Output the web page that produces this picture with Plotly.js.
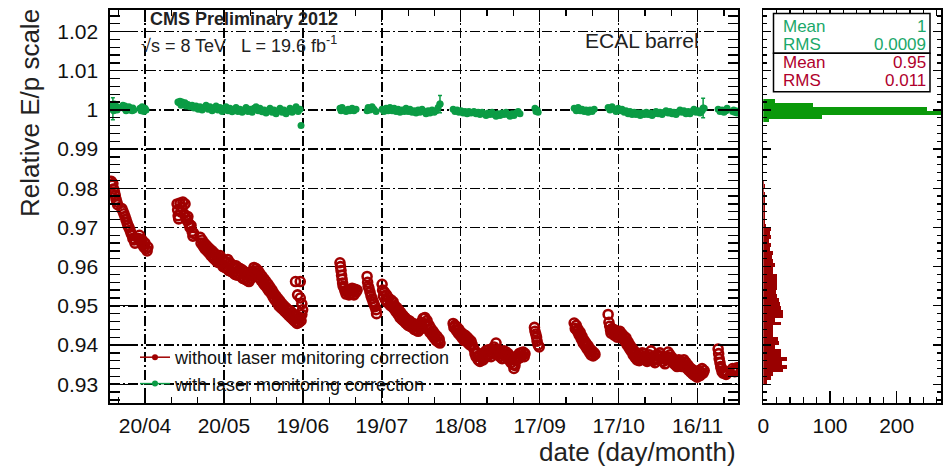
<!DOCTYPE html>
<html><head><meta charset="utf-8">
<script src="https://cdn.plot.ly/plotly-3.0.1.min.js"></script>
<style>html,body{margin:0;padding:0;background:#fff}#chart{width:943px;height:468px}</style>
</head><body><div id="chart"></div>
<script>
// ---- data: days counted from 2012-04-01 ----
const tickDays = [19,49,79,109,139,169,199,229];
const tickText = ['20/04','20/05','19/06','19/07','18/08','17/09','17/10','16/11'];
const yTickVals = [0.93,0.94,0.95,0.96,0.97,0.98,0.99,1.00,1.01,1.02];
const yTickText = ['0.93','0.94','0.95','0.96','0.97','0.98','0.99','1','1.01','1.02'];

const redDay = [
 6.2,6.5,6.8,7.1,7.4,7.7,8.0,8.3,8.6,10.2,10.6,11.0,11.4,11.8,12.2,12.5,12.9,13.3,13.7,14.1,14.4,14.8,15.2,16.5,16.9,17.3,17.5,17.9,18.2,18.6,19.0,19.4,19.8,20.1,
 31.2,31.4,31.6,31.8,32.3,32.6,33.1,33.4,33.8,34.2,34.6,35.0,35.3,35.7,36.1,36.5,36.9,37.2,37.5,
 40.0,40.3,40.7,41.1,41.5,41.8,42.2,42.6,42.9,43.3,43.7,44.1,44.5,44.9,45.2,45.6,46.0,46.4,46.7,47.1,
 47.5,47.9,48.3,48.7,49.0,49.4,49.8,50.2,50.5,50.9,51.3,51.7,52.1,52.4,52.8,53.2,53.6,54.0,54.3,54.7,
 55.1,55.5,55.9,56.2,56.6,57.0,57.4,57.8,58.1,58.5,58.9,59.3,59.7,60.1,60.4,60.8,61.2,61.6,62.0,62.3,
 62.7,63.1,63.5,63.9,64.3,64.6,65.0,65.4,65.8,66.1,66.5,66.9,67.3,67.7,68.0,68.4,68.8,69.2,69.6,69.9,
 70.3,70.7,71.1,71.5,71.8,72.2,72.6,73.0,73.4,73.7,74.1,74.5,74.9,75.3,75.6,76.0,76.4,76.8,77.2,77.5,77.9,78.3,
 76.2,78.0,77.0,78.0,78.6,78.9,78.6,
 93.1,93.3,93.5,93.7,93.9,94.1,94.3,94.7,95.0,95.4,95.8,96.2,96.5,96.9,97.3,97.7,98.1,98.4,98.8,99.2,99.6,
 103.4,103.6,103.8,104.1,104.5,104.9,105.3,105.7,106.0,106.4,106.8,107.0,
 109.1,109.3,109.6,110.0,110.4,110.8,111.2,111.6,112.1,112.5,112.9,113.3,113.7,114.0,114.4,114.8,115.2,115.6,115.9,116.3,
 116.7,117.1,117.5,117.8,118.2,118.6,119.0,119.4,119.7,120.1,120.5,120.9,121.3,121.6,122.0,122.4,122.8,123.2,123.5,123.9,
 124.3,124.7,125.1,125.4,125.8,126.2,126.6,127.0,127.3,127.7,128.1,128.5,128.9,129.2,129.6,130.0,130.4,130.8,131.1,
 136.1,136.4,136.8,137.2,137.6,138.0,138.3,138.7,139.1,139.5,139.9,140.2,140.6,141.0,141.4,141.8,142.1,142.5,142.9,143.3,
 144.0,144.4,144.8,145.2,145.6,146.0,146.3,146.7,147.1,147.5,147.8,148.2,148.6,149.0,149.4,149.7,150.1,150.5,150.9,151.3,
 151.6,152.0,152.4,152.8,153.1,153.5,153.9,154.3,154.7,155.0,155.4,155.8,156.2,156.6,157.0,157.3,157.7,158.1,158.5,158.9,
 159.2,159.6,160.0,160.4,160.8,161.2,161.5,161.9,162.3,162.7,163.1,163.4,
 167.0,167.2,167.5,167.8,168.0,168.4,168.8,
 182.1,182.5,182.9,183.3,183.6,184.0,184.4,184.8,185.1,185.5,185.9,186.3,186.6,187.0,187.4,187.8,188.1,188.5,188.9,189.3,189.7,190.0,
 195.0,195.3,195.6,195.9,196.1,196.5,196.9,197.3,197.6,198.0,198.4,198.8,199.2,199.5,199.9,200.3,200.7,201.1,201.4,201.8,
 202.2,202.6,203.0,203.3,203.7,204.1,204.5,204.9,205.3,205.6,206.0,206.4,206.8,207.2,207.6,207.9,208.3,208.7,209.1,209.5,
 209.8,210.2,210.6,211.0,211.3,211.7,212.1,212.5,212.8,213.2,213.6,214.0,214.4,214.7,215.1,215.5,215.9,216.3,216.6,217.0,
 217.4,217.8,218.2,218.5,218.9,219.3,219.7,220.0,220.4,220.8,221.2,221.6,221.9,222.3,222.7,223.1,223.5,223.8,224.2,224.6,
 225.0,225.4,225.7,226.1,226.5,226.9,227.3,227.6,228.0,228.4,228.8,229.2,229.5,229.9,230.3,230.7,231.1,231.5,
 236.8,237.0,237.2,237.5,237.8,238.0,238.3,238.7,239.0,239.4,239.8,240.2,
 242.3,242.7,243.1,243.5,243.9,244.3
];
const redVal = [
 .9818,.9808,.9812,.9798,.9790,.9782,.9772,.9765,.9758,.9748,.9742,.9735,.9728,.9720,.9712,.9705,.9700,.9693,.9685,.9680,.9672,.9668,.9660,.9672,.9680,.9670,.9662,.9668,.9655,.9650,.9660,.9645,.9640,.9650,
 .9760,.9745,.9730,.9722,.9762,.9740,.9752,.9765,.9735,.9760,.9725,.9718,.9728,.9710,.9700,.9705,.9690,.9678,.9685,
 .9675,.9660,.9668,.9652,.9660,.9645,.9655,.9640,.9650,.9635,.9645,.9628,.9640,.9622,.9635,.9618,.9630,.9612,.9625,.9610,
 .9628,.9608,.9620,.9600,.9615,.9598,.9612,.9595,.9618,.9590,.9610,.9588,.9605,.9585,.9600,.9580,.9602,.9578,.9598,.9582,
 .9595,.9575,.9592,.9570,.9588,.9568,.9585,.9565,.9580,.9562,.9578,.9570,.9588,.9578,.9598,.9585,.9595,.9580,.9590,.9572,
 .9582,.9565,.9575,.9558,.9568,.9552,.9562,.9545,.9555,.9538,.9548,.9532,.9540,.9522,.9532,.9515,.9525,.9508,.9518,.9500,
 .9512,.9495,.9505,.9490,.9500,.9485,.9495,.9480,.9490,.9475,.9488,.9470,.9482,.9465,.9478,.9460,.9472,.9455,.9468,.9458,.9470,.9462,
 .9562,.9562,.9528,.9520,.9505,.9490,.9478,
 .9610,.9600,.9590,.9578,.9568,.9558,.9550,.9545,.9538,.9530,.9540,.9535,.9528,.9540,.9532,.9545,.9538,.9528,.9542,.9535,.9540,
 .9575,.9560,.9550,.9545,.9535,.9525,.9518,.9510,.9505,.9498,.9490,.9480,
 .9555,.9540,.9525,.9535,.9515,.9528,.9508,.9520,.9502,.9515,.9498,.9510,.9492,.9500,.9485,.9495,.9478,.9488,.9470,.9482,
 .9465,.9475,.9460,.9470,.9455,.9465,.9450,.9462,.9448,.9458,.9445,.9455,.9440,.9452,.9438,.9448,.9435,.9450,.9440,.9458,
 .9448,.9468,.9455,.9470,.9450,.9462,.9440,.9450,.9432,.9442,.9425,.9435,.9418,.9428,.9412,.9422,.9408,.9415,.9405,
 .9455,.9445,.9450,.9438,.9445,.9430,.9440,.9425,.9432,.9418,.9428,.9412,.9425,.9410,.9420,.9405,.9415,.9400,.9410,.9402,
 .9390,.9378,.9370,.9380,.9362,.9372,.9358,.9368,.9375,.9362,.9380,.9368,.9385,.9372,.9388,.9375,.9382,.9370,.9390,.9378,
 .9395,.9382,.9405,.9388,.9375,.9385,.9370,.9380,.9365,.9378,.9385,.9372,.9382,.9368,.9378,.9362,.9372,.9355,.9365,.9350,
 .9340,.9348,.9360,.9372,.9365,.9378,.9368,.9380,.9372,.9382,.9370,.9378,
 .9445,.9435,.9428,.9420,.9410,.9400,.9395,
 .9456,.9442,.9450,.9435,.9440,.9425,.9432,.9415,.9422,.9405,.9412,.9398,.9405,.9390,.9398,.9382,.9390,.9375,.9385,.9372,.9380,.9376,
 .9478,.9458,.9448,.9438,.9430,.9442,.9435,.9425,.9438,.9428,.9420,.9432,.9425,.9435,.9420,.9428,.9415,.9422,.9410,.9418,
 .9400,.9408,.9392,.9400,.9385,.9392,.9375,.9385,.9368,.9378,.9362,.9372,.9360,.9375,.9365,.9380,.9368,.9378,.9362,.9372,
 .9358,.9368,.9375,.9362,.9385,.9370,.9360,.9372,.9355,.9365,.9375,.9362,.9372,.9380,.9365,.9372,.9358,.9368,.9352,.9362,
 .9370,.9382,.9368,.9375,.9360,.9368,.9355,.9362,.9350,.9358,.9345,.9355,.9362,.9350,.9358,.9345,.9352,.9362,.9348,.9355,
 .9340,.9348,.9335,.9342,.9330,.9338,.9325,.9332,.9322,.9330,.9318,.9325,.9335,.9322,.9330,.9340,.9328,.9335,
 .9390,.9378,.9365,.9355,.9345,.9340,.9332,.9328,.9335,.9330,.9325,.9330,
 .9340,.9335,.9332,.9338,.9342,.9336
];

const greenDay = [
 6.2,6.5,6.8,7.1,7.4,7.7,8.0,8.4,8.8,10.6,11.0,11.4,11.8,12.2,12.5,12.9,13.3,13.7,14.1,14.4,14.8,17.1,17.5,17.9,18.2,18.6,19.0,19.4,
 31.5,31.9,32.3,32.7,33.1,33.4,34.2,34.6,35.3,36.1,36.9,37.6,38.4,39.2,39.9,40.7,41.5,42.2,43.0,43.7,
 44.5,45.2,46.0,46.7,47.5,48.3,49.0,49.8,50.5,51.3,52.1,52.8,53.6,54.3,55.1,55.9,56.6,57.4,58.1,58.9,
 59.7,60.4,61.2,62.0,62.7,63.5,64.3,65.0,65.8,66.5,67.3,68.0,68.8,69.6,70.3,71.1,71.8,72.6,73.4,74.1,
 74.9,75.6,76.4,77.2,77.9,78.3,
 93.1,93.5,93.9,94.7,95.4,96.2,96.9,97.7,98.4,99.2,
 103.4,103.8,104.5,105.3,106.0,106.8,109.1,109.8,110.6,111.4,112.1,112.9,113.7,114.4,115.2,115.9,116.7,117.5,118.2,119.0,
 119.7,120.5,121.3,122.0,122.8,123.5,124.3,125.1,125.8,126.6,127.3,128.1,128.9,129.6,130.4,131.1,
 136.1,136.8,137.6,138.3,139.1,139.9,140.6,141.4,142.1,142.9,
 144.0,144.8,145.6,146.3,147.1,147.8,148.6,149.4,150.1,150.9,151.6,152.4,153.1,153.9,154.7,155.4,156.2,157.0,157.7,158.5,159.2,160.0,160.8,161.5,
 167.2,167.6,168.0,168.4,
 182.1,182.9,183.6,184.4,185.1,185.9,186.6,187.4,188.1,188.9,189.7,
 195.0,195.7,196.5,197.3,198.0,198.8,199.5,200.3,201.1,201.8,202.6,203.3,204.1,204.9,205.6,206.4,207.2,207.9,208.7,209.5,
 210.2,211.0,211.7,212.5,213.2,214.0,214.7,215.5,216.3,217.0,217.8,218.5,219.3,220.0,220.8,221.6,222.3,223.1,223.8,224.6,
 225.4,226.1,226.9,227.6,228.4,229.2,229.9,230.7,231.5,
 236.8,237.5,238.3,239.0,239.8,240.2,
 242.3,242.7,243.1,243.5,244.0
];
const greenVal = [
 1.0012,1.0002,1.0008,0.9998,1.0015,1.0005,1.0010,1.0000,1.0006,1.0012,1.0004,1.0010,0.9998,1.0006,1.0002,1.0008,1.0000,1.0004,0.9998,1.0005,1.0000,1.0004,0.9998,1.0008,1.0002,0.9996,1.0004,1.0000,
 1.0020,1.0018,1.0022,1.0012,1.0020,1.0015,1.0018,1.0010,1.0014,1.0008,1.0012,1.0005,1.0010,1.0002,1.0008,1.0000,1.0006,1.0012,1.0002,1.0008,
 0.9998,1.0005,1.0010,1.0000,1.0006,0.9996,1.0004,1.0008,0.9998,1.0004,0.9995,1.0002,1.0006,0.9996,1.0002,0.9994,1.0000,1.0006,0.9996,1.0002,
 0.9994,1.0004,1.0008,0.9998,1.0004,0.9995,1.0000,0.9992,0.9998,1.0004,0.9994,1.0000,0.9990,0.9998,1.0004,0.9994,1.0000,0.9990,0.9996,1.0004,
 0.9994,1.0000,1.0008,0.9996,1.0002,0.9960,
 1.0004,0.9998,1.0006,1.0000,0.9996,1.0002,0.9998,1.0004,0.9998,1.0002,
 0.9998,1.0006,1.0000,1.0008,1.0002,0.9996,1.0002,0.9996,1.0004,0.9998,1.0006,0.9998,1.0004,0.9996,1.0002,0.9994,1.0000,0.9996,1.0004,0.9996,
 1.0002,0.9994,0.9998,0.9992,1.0000,0.9994,1.0002,0.9996,0.9990,0.9998,0.9992,1.0000,0.9994,0.9998,1.0006,1.0015,
 1.0002,0.9996,1.0000,0.9994,0.9998,0.9992,0.9996,0.9990,0.9996,0.9992,
 0.9996,0.9990,0.9994,0.9988,0.9994,0.9990,0.9986,0.9992,0.9988,0.9994,0.9988,0.9984,0.9990,0.9986,0.9992,0.9988,0.9994,0.9988,0.9984,0.9990,0.9986,0.9992,0.9996,0.9990,
 1.0004,0.9996,1.0000,0.9994,
 1.0004,0.9998,1.0006,0.9998,1.0002,0.9996,1.0000,0.9994,1.0000,0.9996,1.0002,
 1.0006,1.0000,1.0008,1.0002,0.9996,1.0004,0.9998,1.0002,0.9994,0.9998,0.9990,0.9996,0.9988,0.9994,0.9988,0.9992,0.9986,0.9992,0.9988,0.9994,
 0.9988,0.9992,0.9986,0.9990,0.9996,0.9990,0.9994,0.9988,0.9994,0.9998,0.9992,0.9996,0.9990,0.9994,0.9988,0.9994,1.0000,0.9994,0.9998,0.9990,
 0.9996,0.9990,0.9996,1.0002,0.9994,0.9998,0.9992,0.9998,1.0004,
 1.0002,0.9996,1.0000,0.9994,0.9998,1.0004,
 0.9996,1.0000,0.9994,0.9998,0.9992
];
const greenErrDay = [6.8, 131.1, 231.1];
const greenErrVal = [1.0003, 1.0015, 1.0005];
const greenErrSize = [0.0028, 0.0022, 0.0025];

const redHistBin = [0.9305,0.9315,0.9325,0.9335,0.9345,0.9355,0.9365,0.9375,0.9385,0.9395,
 0.9405,0.9415,0.9425,0.9435,0.9445,0.9455,0.9465,0.9475,0.9485,0.9495,
 0.9505,0.9515,0.9525,0.9535,0.9545,0.9555,0.9565,0.9575,0.9585,0.9595,
 0.9605,0.9615,0.9625,0.9635,0.9645,0.9655,0.9665,0.9675,0.9685,0.9695,
 0.9705,0.9715,0.9725,0.9735,0.9745,0.9755,0.9765,0.9775,0.9785,0.9795,0.9805,0.9815];
const redHistCount = [5,12,15,30,36,28,36,26,26,18,24,22,15,14,15,27,17,30,30,27,
 25,23,21,19,20,21,21,20,15,14,17,15,13,15,10,12,9,11,10,11,4,3,3,2,3,2,3,2,2,1,2,1];
const greenHistBin = [0.9973,0.9983,0.9993,1.0003,1.0013,1.0023];
const greenHistCount = [8,88,330,245,75,18];

const statsGreen = {mean:'1', rms:'0.0009'};
const statsRed = {mean:'0.95', rms:'0.011'};

// ---- helpers ----
const DAY = 86400000, T0 = Date.UTC(2012,3,1);
const toMs = d => T0 + d*DAY;
const W = 943, H = 468;
const px = x => x/W, py = y => 1 - y/H;   // margins are zero, so paper == full figure

const RED = '#a00000', GREEN = '#0b9c45';
const FONT = 'Liberation Sans, Arial, Helvetica, sans-serif';

const traces = [
 {type:'bar', orientation:'h', x:redHistCount, y:redHistBin, width:0.001, xaxis:'x2', yaxis:'y2',
  marker:{color:'#990000', line:{width:0}}, showlegend:false, hoverinfo:'skip'},
 {type:'bar', orientation:'h', x:greenHistCount, y:greenHistBin, width:0.001, xaxis:'x2', yaxis:'y2',
  marker:{color:'#0a990a', line:{width:0}}, showlegend:false, hoverinfo:'skip'},
 {type:'scatter', mode:'markers', x:redDay.map(toMs), y:redVal, xaxis:'x', yaxis:'y',
  marker:{symbol:'circle-open', size:9, color:RED, line:{width:2.6}}, showlegend:false},
 {type:'scatter', mode:'markers', x:greenDay.map(toMs), y:greenVal, xaxis:'x', yaxis:'y',
  marker:{symbol:'circle', size:7, color:GREEN}, showlegend:false},
 {type:'scatter', mode:'markers', x:greenErrDay.map(toMs), y:greenErrVal, xaxis:'x', yaxis:'y',
  error_y:{type:'data', array:greenErrSize, color:GREEN, thickness:1.5, width:2},
  marker:{symbol:'circle', size:7, color:GREEN}, showlegend:false},
 {type:'scatter', mode:'lines+markers', x:[null], y:[null], name:'without laser monitoring correction',
  line:{color:RED, width:1.5}, marker:{size:6, color:RED}, xaxis:'x', yaxis:'y'},
 {type:'scatter', mode:'lines+markers', x:[null], y:[null], name:'with laser monitoring correction',
  line:{color:GREEN, width:1.5}, marker:{size:6, color:GREEN}, xaxis:'x', yaxis:'y'}
];

const axCommon = {showline:true, linecolor:'black', linewidth:1.6, mirror:'allticks', ticks:'inside',
  tickcolor:'black', tickwidth:1.3, zeroline:false, tickfont:{family:FONT, size:21, color:'#111'}};
const GRIDDASH = '10px,3px,2px,3px';

const yRange = [0.9252, 1.0255];
const yDom = [1 - 403/H, 1 - 10/H];
const layout = {
  width:W, height:H, margin:{l:0, r:0, t:0, b:0},
  paper_bgcolor:'white', plot_bgcolor:'white',
  font:{family:FONT, color:'#111'},
  barmode:'overlay', bargap:0,
  showlegend:true,
  legend:{x:px(135), y:py(339), xanchor:'left', yanchor:'top', bgcolor:'rgba(0,0,0,0)',
    font:{family:FONT, size:18, color:'#111'}, tracegroupgap:0, itemwidth:30},
  xaxis:Object.assign({}, axCommon, {domain:[px(110), px(738)], type:'date',
    range:[toMs(5.70), toMs(244.35)], tickmode:'array', tickvals:tickDays.map(toMs), ticktext:tickText,
    ticklen:12, ticklabelstandoff:3,
    showgrid:true, gridcolor:'black', gridwidth:1.4, griddash:GRIDDASH,
    minor:{tick0:toMs(19), dtick:10*DAY, ticks:'inside', ticklen:6, tickcolor:'black', showgrid:false}}),
  yaxis:Object.assign({}, axCommon, {domain:yDom, range:yRange, tickmode:'array',
    tickvals:yTickVals, ticktext:yTickText, ticklen:20, ticklabelstandoff:6,
    showgrid:true, gridcolor:'black', gridwidth:1.4, griddash:GRIDDASH,
    minor:{tick0:0.93, dtick:0.002, ticks:'inside', ticklen:10, tickcolor:'black', showgrid:false}}),
  xaxis2:Object.assign({}, axCommon, {domain:[px(763.3), px(941)], anchor:'y2', range:[0, 266.5],
    tickmode:'array', tickvals:[0,100,200], ticklen:12, ticklabelstandoff:3, showgrid:false,
    minor:{tick0:0, dtick:20, ticks:'inside', ticklen:6, tickcolor:'black', showgrid:false}}),
  yaxis2:Object.assign({}, axCommon, {domain:yDom, anchor:'x2', range:yRange, showticklabels:false,
    tickmode:'linear', tick0:0.93, dtick:0.01, ticklen:8, showgrid:false,
    minor:{tick0:0.93, dtick:0.002, ticks:'inside', ticklen:4, tickcolor:'black', showgrid:false}}),
  shapes:[
    {type:'rect', xref:'paper', yref:'paper', x0:px(111), x1:px(342), y0:py(11), y1:py(62),
     fillcolor:'white', line:{width:0}, layer:'between'},
    {type:'rect', xref:'paper', yref:'paper', x0:px(562), x1:px(737), y0:py(11), y1:py(58),
     fillcolor:'white', line:{width:0}, layer:'between'},
    {type:'rect', xref:'paper', yref:'paper', x0:px(111), x1:px(458), y0:py(344), y1:py(398),
     fillcolor:'white', line:{width:0}, layer:'between'},
    {type:'rect', xref:'paper', yref:'paper', x0:px(773.5), x1:px(930), y0:py(13.5), y1:py(53.3),
     fillcolor:'white', line:{color:'black', width:1.5}, layer:'above'},
    {type:'rect', xref:'paper', yref:'paper', x0:px(773.5), x1:px(930), y0:py(53.3), y1:py(91.7),
     fillcolor:'white', line:{color:'black', width:1.5}, layer:'above'}
  ],
  annotations:[
    {xref:'paper', yref:'paper', x:px(148), y:py(19), xanchor:'left', yanchor:'middle', showarrow:false,
     text:'<b>CMS Preliminary 2012</b>', font:{family:FONT, size:18, color:'#222'}},
    {xref:'paper', yref:'paper', x:px(139), y:py(45), xanchor:'left', yanchor:'middle', showarrow:false,
     text:'√s = 8 TeV   L = 19.6 fb<sup>-1</sup>', font:{family:FONT, size:18, color:'#222'}},
    {xref:'paper', yref:'paper', x:px(583), y:py(40), xanchor:'left', yanchor:'middle', showarrow:false,
     text:'ECAL barrel', font:{family:FONT, size:21, color:'#222'}},
    {xref:'paper', yref:'paper', x:px(30), y:py(113), xanchor:'center', yanchor:'middle', showarrow:false,
     textangle:-90, text:'Relative E/p scale', font:{family:FONT, size:26, color:'#222'}},
    {xref:'paper', yref:'paper', x:px(738), y:py(452), xanchor:'right', yanchor:'middle', showarrow:false,
     text:'date (day/month)', font:{family:FONT, size:26, color:'#222'}},
    {xref:'paper', yref:'paper', x:px(781), y:py(26.5), xanchor:'left', yanchor:'middle', showarrow:false,
     text:'Mean', font:{family:FONT, size:17, color:'#1aa86a'}},
    {xref:'paper', yref:'paper', x:px(928), y:py(26.5), xanchor:'right', yanchor:'middle', showarrow:false,
     text:statsGreen.mean, font:{family:FONT, size:17, color:'#1aa86a'}},
    {xref:'paper', yref:'paper', x:px(781), y:py(44), xanchor:'left', yanchor:'middle', showarrow:false,
     text:'RMS', font:{family:FONT, size:17, color:'#1aa86a'}},
    {xref:'paper', yref:'paper', x:px(928), y:py(44), xanchor:'right', yanchor:'middle', showarrow:false,
     text:statsGreen.rms, font:{family:FONT, size:17, color:'#1aa86a'}},
    {xref:'paper', yref:'paper', x:px(781), y:py(63), xanchor:'left', yanchor:'middle', showarrow:false,
     text:'Mean', font:{family:FONT, size:17, color:'#b0002c'}},
    {xref:'paper', yref:'paper', x:px(928), y:py(63), xanchor:'right', yanchor:'middle', showarrow:false,
     text:statsRed.mean, font:{family:FONT, size:17, color:'#b0002c'}},
    {xref:'paper', yref:'paper', x:px(781), y:py(80), xanchor:'left', yanchor:'middle', showarrow:false,
     text:'RMS', font:{family:FONT, size:17, color:'#b0002c'}},
    {xref:'paper', yref:'paper', x:px(928), y:py(80), xanchor:'right', yanchor:'middle', showarrow:false,
     text:statsRed.rms, font:{family:FONT, size:17, color:'#b0002c'}}
  ]
};

Plotly.newPlot('chart', traces, layout, {displayModeBar:false, staticPlot:true});
</script>
</body></html>
